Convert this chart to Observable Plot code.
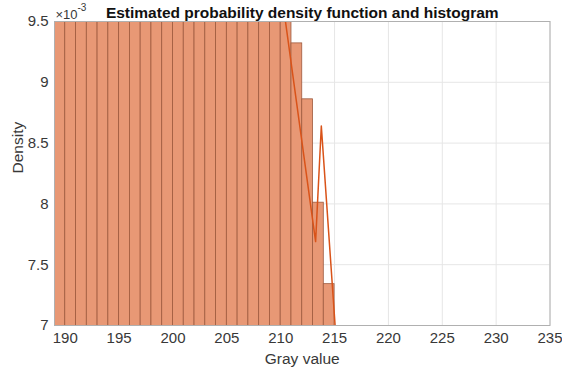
<!DOCTYPE html>
<html>
<head>
<meta charset="utf-8">
<script src="https://cdn.jsdelivr.net/npm/d3@7"></script>
<script src="https://cdn.jsdelivr.net/npm/@observablehq/plot@0.6"></script>
<style>
  html, body { margin: 0; padding: 0; background: #fff; }
  #chart { width: 562px; height: 374px; }
</style>
</head>
<body>
<div id="chart"></div>
<script>
// Histogram bins (unit width) of gray values, normalised to a density
const binStart = [189, 190, 191, 192, 193, 194, 195, 196, 197, 198, 199, 200, 201,
                  202, 203, 204, 205, 206, 207, 208, 209, 210, 211, 212, 213, 214];
const binEnd   = [190, 191, 192, 193, 194, 195, 196, 197, 198, 199, 200, 201, 202,
                  203, 204, 205, 206, 207, 208, 209, 210, 211, 212, 213, 214, 215];
const binDensity = [0.0262, 0.0255, 0.0249, 0.0241, 0.0236, 0.0228, 0.0221, 0.0213,
                    0.0205, 0.0197, 0.0188, 0.0180, 0.0171, 0.0163, 0.0154, 0.0146,
                    0.0138, 0.0130, 0.0122, 0.0114, 0.0107, 0.0099,
                    0.00932, 0.00886, 0.00801, 0.00734];

// Estimated probability density function
const pdfX = [209.7, 213.24, 213.77, 215.3];
const pdfY = [0.00998, 0.00769, 0.00864, 0.00668];

// Axes
const xTicks = [190, 195, 200, 205, 210, 215, 220, 225, 230, 235];
const yTicks = [0.007, 0.0075, 0.008, 0.0085, 0.009, 0.0095];
const xDomain = [189, 235];
const yDomain = [0.007, 0.0095];

const titleText = "Estimated probability density function and histogram";
const xLabel = "Gray value";
const yLabel = "Density";
const exponentBase = "×10";
const exponentPower = "-3";

const bins = binStart.map((x1, i) => ({x1, x2: binEnd[i], y: binDensity[i]}));
const pdf = pdfX.map((x, i) => ({x, y: pdfY[i]}));

const textColor = "#383838";

const chart = Plot.plot({
  width: 562,
  height: 374,
  marginLeft: 54,
  marginRight: 12.5,
  marginTop: 21,
  marginBottom: 49,
  style: {
    fontFamily: "'Liberation Sans', Arial, Helvetica, sans-serif",
    fontSize: "15px",
    color: textColor,
    background: "#ffffff"
  },
  x: {domain: xDomain},
  y: {domain: yDomain},
  marks: [
    Plot.gridX(xTicks, {stroke: "#e6e6e6", strokeOpacity: 1}),
    Plot.gridY(yTicks, {stroke: "#e6e6e6", strokeOpacity: 1}),
    Plot.rect(bins, {
      x1: "x1", x2: "x2", y1: 0, y2: "y",
      fill: "#E89875", stroke: "#9e5a3e", strokeWidth: 0.8,
      clip: true
    }),
    Plot.line(pdf, {x: "x", y: "y", stroke: "#D95319", strokeWidth: 1.5, clip: true}),
    Plot.frame({stroke: "#b0b0b0"}),
    Plot.axisX(xTicks, {tickSize: 0, tickPadding: 7, label: null, fill: textColor, fontSize: 15}),
    Plot.axisY(yTicks, {
      tickSize: 0, tickPadding: 6, label: null, fill: textColor, fontSize: 15,
      tickFormat: d => String(+(d * 1000).toFixed(1))
    }),
    Plot.text([xLabel], {
      frameAnchor: "bottom", dy: 34, lineAnchor: "middle",
      fontSize: 15.5, fill: textColor
    }),
    Plot.text([yLabel], {
      frameAnchor: "left", dx: -36, rotate: -90, lineAnchor: "middle",
      fontSize: 15.5, fill: textColor
    }),
    Plot.text([titleText], {
      frameAnchor: "top", dy: -8, lineAnchor: "middle",
      fontSize: 15.5, fontWeight: "bold", fill: "#111111"
    }),
    Plot.text([exponentBase], {
      frameAnchor: "top-left", dx: 1, dy: -3, textAnchor: "start", lineAnchor: "bottom",
      fontSize: 13, fill: textColor
    }),
    Plot.text([exponentPower], {
      frameAnchor: "top-left", dx: 23, dy: -11, textAnchor: "start", lineAnchor: "bottom",
      fontSize: 10, fill: textColor
    })
  ]
});

document.getElementById("chart").appendChild(chart);
</script>
</body>
</html>
